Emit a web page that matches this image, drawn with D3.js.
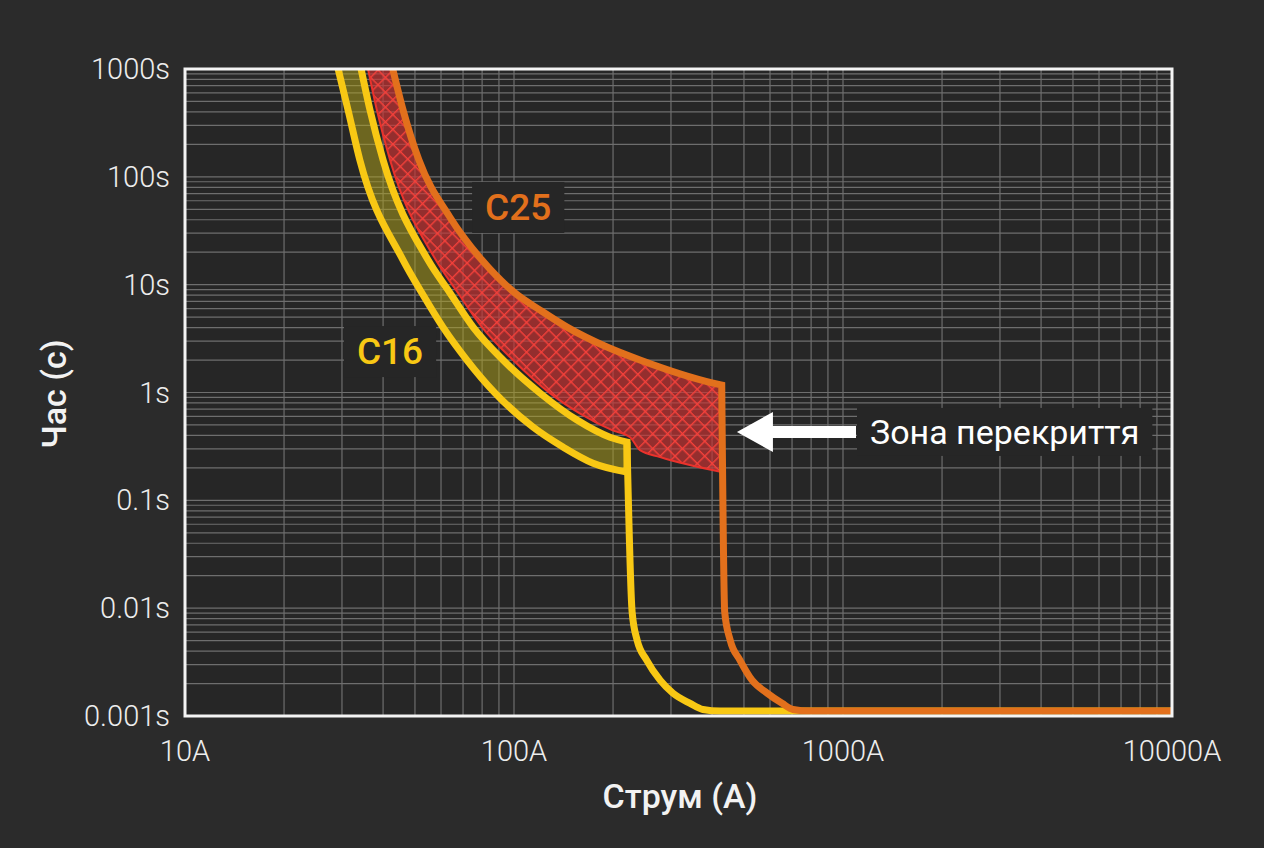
<!DOCTYPE html>
<html lang="uk">
<head>
<meta charset="UTF-8">
<title>Time-current curves C16 / C25</title>
<style>
  html, body { margin: 0; padding: 0; background: #2b2b2b; }
  svg { display: block; font-family: Roboto, "Noto Sans", sans-serif; }
</style>
</head>
<body>
<script src="https://d3js.org/d3.v7.min.js"></script>
<script>
// --- data (current in A, time in s) ---
const xTickValues = [10, 100, 1000, 10000];
const xTickLabels = ['10A', '100A', '1000A', '10000A'];
const yTickValues = [1000, 100, 10, 1, 0.1, 0.01, 0.001];
const yTickLabels = ['1000s', '100s', '10s', '1s', '0.1s', '0.01s', '0.001s'];

// C16: lower (min) and upper (max) thermal boundary, then magnetic drop
const c16Min = [[29.2, 1000], [31.3, 417], [34.0, 143], [46.0, 16.9], [52.5, 8.36], [60.8, 4.04], [71.9, 2.0],
                [87.6, 0.987], [114.2, 0.478], [140.9, 0.312], [173.9, 0.221], [220.5, 0.183]];
const c16Max = [[34.3, 1000], [36.5, 417], [40.0, 143], [54.8, 16.9], [63.9, 8.36], [75.1, 4.04], [92.6, 2.0],
                [120, 0.987], [155.4, 0.555], [195.8, 0.385], [220.5, 0.347]];
const c16Drop = [[220.5, 0.347], [228.6, 0.0092], [236.7, 0.00505], [253, 0.0033], [278, 0.00215], [304, 0.00163],
                 [343, 0.00131], [375, 0.00115], [423, 0.00111], [10000, 0.00111]];

// C25
const c25Min = [[36.0, 1000], [38.3, 417], [42.0, 143], [57.9, 16.9], [67.6, 8.36], [79.9, 4.04], [99.3, 2.0],
                [128.6, 0.987], [159.8, 0.631], [198.6, 0.448], [225.3, 0.385], [241.5, 0.292], [278, 0.252], [428, 0.183]];
const c25Max = [[42.8, 1000], [46.0, 417], [51.4, 143], [63.8, 42.4], [79.9, 16.9], [100.7, 8.36], [120, 5.81],
                [144.9, 4.04], [191.7, 2.64], [241.5, 2.0], [403, 1.22], [428, 1.17]];
const c25Drop = [[428, 1.17], [437, 0.0092], [454, 0.00505], [486, 0.0033], [529, 0.00215], [588, 0.00163],
                 [653, 0.00131], [705, 0.00115], [794, 0.00111], [10000, 0.00111]];

// annotation anchors (data space)
const labelC25 = {text: 'C25', x: 103, y: 52.5};
const labelC16 = {text: 'C16', x: 42, y: 2.42};
const overlapNote = {text: 'Зона перекриття', tipX: 476, x: 1208, y: 0.43};

// --- layout ---
const W = 1264, H = 848;
const m = {left: 185, top: 69, right: 92, bottom: 132};
const pw = W - m.left - m.right, ph = H - m.top - m.bottom;

const svg = d3.select('body').append('svg').attr('width', W).attr('height', H);
svg.append('rect').attr('width', W).attr('height', H).attr('fill', '#2b2b2b');

const x = d3.scaleLog().domain([10, 10000]).range([0, pw]);
const y = d3.scaleLog().domain([0.001, 1000]).range([ph, 0]);

const defs = svg.append('defs');
defs.append('clipPath').attr('id', 'clip')
    .append('rect').attr('width', pw).attr('height', ph);

const hs = 10.5;
const hatch = defs.append('pattern').attr('id', 'hatch')
    .attr('patternUnits', 'userSpaceOnUse')
    .attr('width', hs).attr('height', hs)
    .attr('patternTransform', 'rotate(45)');
hatch.append('rect').attr('width', hs).attr('height', hs).attr('fill', 'rgba(205,50,50,0.66)');
hatch.append('path').attr('d', `M0,0.7H${hs}M0.7,0V${hs}`)
    .attr('stroke', '#f5403a').attr('stroke-width', 1.4).attr('fill', 'none');

const g = svg.append('g').attr('transform', `translate(${m.left},${m.top})`);
g.append('rect').attr('width', pw).attr('height', ph).attr('fill', '#262626');

// grid
const grid = g.append('g').attr('clip-path', 'url(#clip)');
grid.selectAll('line.vx').data(x.ticks()).join('line')
    .attr('x1', d => x(d)).attr('x2', d => x(d))
    .attr('y1', 0).attr('y2', ph)
    .attr('stroke', '#6e6e6e').attr('stroke-width', 1.2);
grid.selectAll('line.hy').data(y.ticks()).join('line')
    .attr('y1', d => y(d)).attr('y2', d => y(d))
    .attr('x1', 0).attr('x2', pw)
    .attr('stroke', '#6e6e6e').attr('stroke-width', 1.2);

const line = d3.line().x(d => x(d[0])).y(d => y(d[1])).curve(d3.curveMonotoneX);
const outline = (lo, hi) => line(lo) + 'L' + line(hi.slice().reverse()).slice(1);

const plot = g.append('g').attr('clip-path', 'url(#clip)');

// C25 overlap band (hatched)
plot.append('path').attr('d', outline(c25Min, c25Max) + 'Z').attr('fill', 'url(#hatch)');
plot.append('path').attr('d', line(c25Min)).attr('fill', 'none')
    .attr('stroke', '#ea322c').attr('stroke-width', 2);

// C16 band
plot.append('path').attr('d', outline(c16Min, c16Max) + 'Z').attr('fill', 'rgba(180,165,25,0.5)');
plot.append('path').attr('d', outline(c16Min, c16Max)).attr('fill', 'none')
    .attr('stroke', '#f8c814').attr('stroke-width', 7).attr('stroke-linejoin', 'miter');
plot.append('path').attr('d', line(c16Drop)).attr('fill', 'none')
    .attr('stroke', '#f8c814').attr('stroke-width', 7).attr('stroke-linejoin', 'round');

// C25 outer curve + drop (sharp corner kept by joining two paths)
plot.append('path').attr('d', line(c25Max) + 'L' + line(c25Drop).slice(1)).attr('fill', 'none')
    .attr('stroke', '#e2701c').attr('stroke-width', 7).attr('stroke-linejoin', 'miter');

// frame
g.append('rect').attr('width', pw).attr('height', ph)
    .attr('fill', 'none').attr('stroke', '#f4f4f4').attr('stroke-width', 3);

// tick labels
g.selectAll('text.xt').data(xTickValues).join('text')
    .attr('x', d => x(d)).attr('y', ph + 45)
    .attr('text-anchor', 'middle').attr('fill', '#ededed')
    .attr('font-size', 29).attr('font-weight', 300).text((d, i) => xTickLabels[i]);
g.selectAll('text.yt').data(yTickValues).join('text')
    .attr('x', -15).attr('y', d => y(d)).attr('dy', '0.35em')
    .attr('text-anchor', 'end').attr('fill', '#ededed')
    .attr('font-size', 29).attr('font-weight', 300).text((d, i) => yTickLabels[i]);

// axis titles
svg.append('text').attr('x', 680).attr('y', 808).attr('text-anchor', 'middle')
    .attr('fill', '#f2f2f2').attr('font-size', 34).attr('font-weight', 500).text('Струм (A)');
svg.append('text').attr('transform', 'translate(66,394) rotate(-90)').attr('text-anchor', 'middle')
    .attr('fill', '#f2f2f2').attr('font-size', 34).attr('font-weight', 500).text('Час (с)');

// curve labels with dark backing boxes
function boxedLabel(txt, cx, cy, color, size, weight, anchor) {
  const grp = g.append('g');
  const bg = grp.append('rect').attr('fill', '#262626');
  const t = grp.append('text').attr('x', cx).attr('y', cy).attr('dy', '0.35em')
      .attr('text-anchor', anchor).attr('fill', color)
      .attr('font-size', size).attr('font-weight', weight).text(txt);
  const b = t.node().getBBox();
  bg.attr('x', b.x - 13).attr('y', b.y - 4).attr('width', b.width + 26).attr('height', b.height + 8);
}
boxedLabel(labelC25.text, x(labelC25.x), y(labelC25.y), '#e2701c', 37, 500, 'middle');
boxedLabel(labelC16.text, x(labelC16.x), y(labelC16.y), '#f8c814', 37, 500, 'middle');
boxedLabel(overlapNote.text, x(overlapNote.x), y(overlapNote.y), '#ffffff', 34, 400, 'start');

// arrow pointing at the overlap zone
const tipX = x(overlapNote.tipX), ay = y(overlapNote.y), tailX = x(overlapNote.x) - 14;
g.append('path')
    .attr('d', `M${tipX},${ay}L${tipX + 36},${ay - 20}L${tipX + 36},${ay - 6}L${tailX},${ay - 6}` +
               `L${tailX},${ay + 6}L${tipX + 36},${ay + 6}L${tipX + 36},${ay + 20}Z`)
    .attr('fill', '#ffffff');
</script>
</body>
</html>
